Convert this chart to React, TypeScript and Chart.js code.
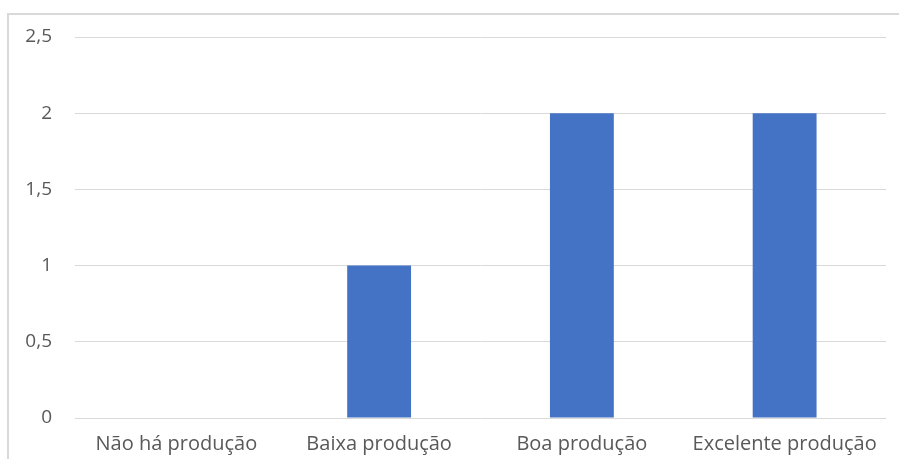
import React, { useEffect, useRef } from "react";
import { Chart, registerables } from "chart.js";

Chart.register(...registerables);

const categories = ["Não há produção", "Baixa produção", "Boa produção", "Excelente produção"];
const values = [0, 1, 2, 2];
const yTicks = [0, 0.5, 1, 1.5, 2, 2.5];

export default function App() {
  const ref = useRef<HTMLCanvasElement | null>(null);
  useEffect(() => {
    if (!ref.current) return;
    const chart = new Chart(ref.current, {
      type: "bar",
      data: {
        labels: categories,
        datasets: [
          {
            data: values,
            backgroundColor: "#4472c4",
            barPercentage: 0.315,
            categoryPercentage: 1,
          },
        ],
      },
      options: {
        animation: false,
        responsive: false,
        maintainAspectRatio: false,
        layout: { padding: { top: 37, right: 13, left: 0, bottom: 0 } },
        plugins: { legend: { display: false }, tooltip: { enabled: false } },
        scales: {
          x: {
            grid: { display: false },
            border: { display: false },
            ticks: {
              color: "#595959",
              font: { family: "Open Sans", size: 20 },
              padding: 6,
              maxRotation: 0,
              autoSkip: false,
            },
            afterFit: (s: any) => {
              s.height = 41;
            },
          },
          y: {
            min: 0,
            max: 2.5,
            afterBuildTicks: (s: any) => {
              s.ticks = yTicks.map((v) => ({ value: v }));
            },
            grid: { color: "#d9d9d9", lineWidth: 1, drawTicks: false },
            border: { display: false },
            ticks: {
              color: "#595959",
              font: { family: "Open Sans", size: 19 },
              padding: 23,
              callback: (v: any) => String(v).replace(".", ","),
            },
            afterFit: (s: any) => {
              s.width = 75;
            },
          },
        },
      },
    });
    return () => chart.destroy();
  }, []);
  return (
    <div style={{ position: "absolute", left: 0, top: 0, width: 899, height: 459, background: "#fff" }}>
      <div
        style={{
          position: "absolute",
          left: 7,
          top: 13,
          width: 900,
          height: 460,
          borderTop: "2px solid #d9d9d9",
          borderLeft: "2px solid #d9d9d9",
        }}
      />
      <canvas ref={ref} width={899} height={459} style={{ position: "absolute", left: 0, top: 0 }} />
    </div>
  );
}
